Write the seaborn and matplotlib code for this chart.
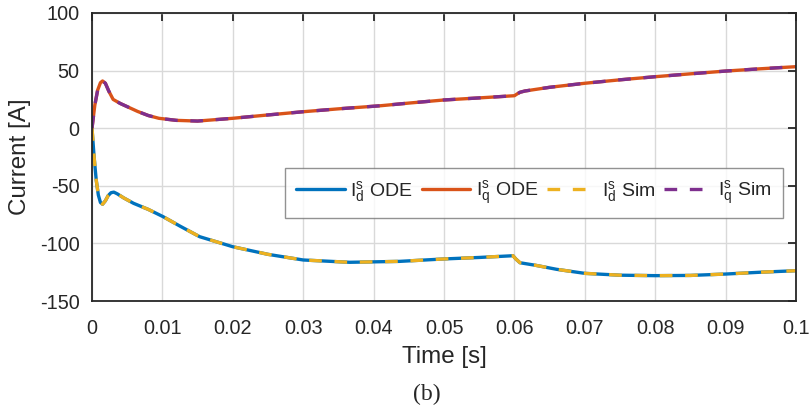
import matplotlib
matplotlib.use("Agg")
import matplotlib.pyplot as plt
import seaborn as sns
import numpy as np
import pandas as pd

# Data
t_q = [0.0, 0.0004, 0.0008, 0.0012, 0.0015, 0.0019, 0.0024, 0.0030, 0.0040, 0.0050, 0.0065,
       0.0080, 0.0095, 0.0120, 0.0150, 0.0200, 0.0250, 0.0300, 0.0350, 0.0410, 0.0450,
       0.0500, 0.0550, 0.0600, 0.0604, 0.0608, 0.0615, 0.0650, 0.0700, 0.0750, 0.0800,
       0.0850, 0.0900, 0.0950, 0.1000]
i_q = [0.0, 20.0, 33.0, 39.5, 41.0, 39.0, 32.0, 25.0, 21.5, 18.7, 14.5,
       11.0, 8.6, 6.8, 6.2, 8.6, 11.5, 14.3, 16.8, 19.5, 21.8,
       24.5, 26.3, 28.2, 29.8, 31.2, 32.3, 35.5, 39.0, 42.0, 44.7,
       47.2, 49.6, 51.6, 53.4]

t_d = [0.0, 0.0003, 0.0006, 0.0009, 0.0012, 0.0015, 0.0019, 0.0023, 0.0027, 0.0031, 0.0036,
       0.0045, 0.0059, 0.0080, 0.0101, 0.0125, 0.0153, 0.0200, 0.0250, 0.0300, 0.0366,
       0.0437, 0.0500, 0.0550, 0.0598, 0.0602, 0.0608, 0.0630, 0.0660, 0.0700, 0.0750,
       0.0800, 0.0850, 0.0900, 0.0950, 0.1000]
i_d = [0.0, -25.0, -45.0, -58.0, -64.5, -66.0, -63.0, -58.5, -56.0, -55.5, -57.0,
       -60.5, -65.2, -70.5, -76.8, -85.0, -94.2, -102.9, -109.5, -114.4, -116.4,
       -115.6, -113.5, -112.2, -110.7, -113.5, -116.8, -119.0, -122.5, -126.0, -127.6,
       -128.0, -127.8, -126.6, -125.0, -123.7]

labels = [r"$\mathrm{I_d^s}$ ODE", r"$\mathrm{I_q^s}$ ODE",
          r"$\mathrm{I_d^s}$ Sim", r"$\mathrm{I_q^s}$ Sim"]
colors = ["#0072BD", "#D95319", "#EDB120", "#7E2F8E"]
xticks = [0, 0.01, 0.02, 0.03, 0.04, 0.05, 0.06, 0.07, 0.08, 0.09, 0.1]
xticklabels = ["0", "0.01", "0.02", "0.03", "0.04", "0.05", "0.06", "0.07", "0.08", "0.09", "0.1"]
yticks = [-150, -100, -50, 0, 50, 100]

sns.set_theme(style="white")
plt.rcParams['font.family'] = ['Liberation Sans', 'DejaVu Sans']
plt.rcParams['mathtext.fontset'] = 'custom'
plt.rcParams['mathtext.rm'] = 'Liberation Sans'
plt.rcParams['mathtext.it'] = 'Liberation Sans:italic'
plt.rcParams['axes.unicode_minus'] = False

fig = plt.figure(figsize=(8.11, 4.08), dpi=100)
ax = fig.add_axes([92/811, 1-301/408, 704/811, 288/408])

lw = 2.4
dash = (0, (3.8, 3.8))
sns.lineplot(x=t_d, y=i_d, ax=ax, color=colors[0], lw=lw, label=labels[0], sort=False)
sns.lineplot(x=t_q, y=i_q, ax=ax, color=colors[1], lw=lw, label=labels[1], sort=False)
sns.lineplot(x=t_d, y=i_d, ax=ax, color=colors[2], lw=lw, label=labels[2], sort=False,
             linestyle=dash)
sns.lineplot(x=t_q, y=i_q, ax=ax, color=colors[3], lw=lw, label=labels[3], sort=False,
             linestyle=dash)

ax.set_xlim(0, 0.1)
ax.set_ylim(-150, 100)
ax.set_xticks(xticks)
ax.set_xticklabels(xticklabels)
ax.set_yticks(yticks)
ax.grid(True, color="#d9d9d9", lw=1.0)
for s in ax.spines.values():
    s.set_color("#262626")
    s.set_linewidth(1.3)
ax.tick_params(direction="in", length=6, width=1.3, top=True, right=True,
               labelsize=14.3, colors="#262626", pad=9)
ax.tick_params(axis='x', pad=13)
ax.set_xlabel("Time [s]", fontsize=17.4, color="#262626", labelpad=6)
ax.set_ylabel("Current [A]", fontsize=17.4, color="#262626", labelpad=6)

leg = ax.legend(ncol=4, loc="upper right", bbox_to_anchor=(0.981, 0.462),
                fontsize=14, frameon=True, fancybox=False, edgecolor="#777777",
                handlelength=2.5, handletextpad=0.3, columnspacing=0.45,
                borderpad=0.55, borderaxespad=0)
leg.get_frame().set_linewidth(1.0)
for txt in leg.get_texts():
    txt.set_color("#262626")

fig.text(427/811, 1 - 394/408, "(b)", ha="center", va="center",
         fontsize=17, family="Liberation Serif", color="#262626")

fig.savefig("out.png", dpi=100)
